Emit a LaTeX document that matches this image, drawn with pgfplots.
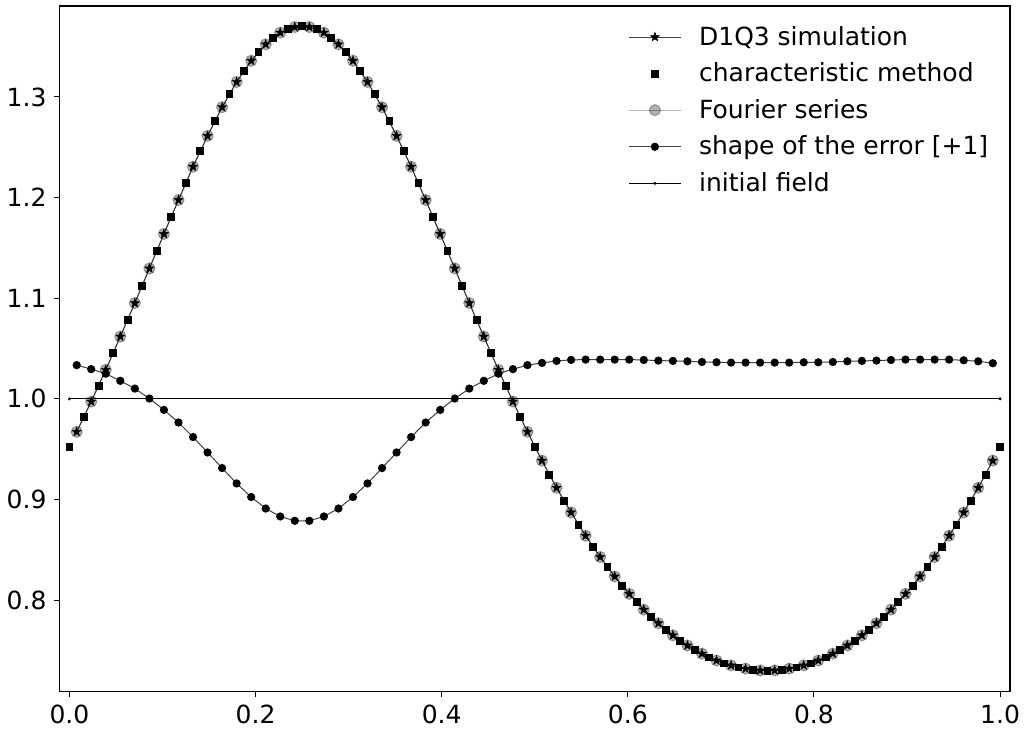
\documentclass[border=0pt]{standalone}
\usepackage{fontspec}
\setmainfont{DejaVu Sans}
\usepackage{pgfplots}
\usepackage{pgfplotstable}
\pgfplotsset{compat=1.18}

% filled five-pointed star, like matplotlib's '*'
\pgfdeclareplotmark{fstar}{%
  \pgfpathmoveto{\pgfpointpolar{90}{1.15*\pgfplotmarksize}}%
  \pgfpathlineto{\pgfpointpolar{126}{0.48*\pgfplotmarksize}}%
  \pgfpathlineto{\pgfpointpolar{162}{1.15*\pgfplotmarksize}}%
  \pgfpathlineto{\pgfpointpolar{198}{0.48*\pgfplotmarksize}}%
  \pgfpathlineto{\pgfpointpolar{234}{1.15*\pgfplotmarksize}}%
  \pgfpathlineto{\pgfpointpolar{270}{0.48*\pgfplotmarksize}}%
  \pgfpathlineto{\pgfpointpolar{306}{1.15*\pgfplotmarksize}}%
  \pgfpathlineto{\pgfpointpolar{342}{0.48*\pgfplotmarksize}}%
  \pgfpathlineto{\pgfpointpolar{18}{1.15*\pgfplotmarksize}}%
  \pgfpathlineto{\pgfpointpolar{54}{0.48*\pgfplotmarksize}}%
  \pgfpathclose\pgfusepathqfillstroke}

\pgfplotsset{
  longleg/.style={legend image code/.code={%
    \draw[mark repeat=2,mark phase=2,##1] plot coordinates {(0cm,0cm) (0.45cm,0cm) (0.9cm,0cm)};}},
}

% D1Q3 simulation and Fourier series, cell centres
\pgfplotstableread{
x y
0.0078125 0.9672
0.0234375 0.9973
0.0390625 1.0288
0.0546875 1.0619
0.0703125 1.0952
0.0859375 1.1296
0.1015625 1.1639
0.1171875 1.1976
0.1328125 1.2307
0.1484375 1.2613
0.1640625 1.2898
0.1796875 1.3149
0.1953125 1.3360
0.2109375 1.3523
0.2265625 1.3639
0.2421875 1.3695
0.2578125 1.3695
0.2734375 1.3639
0.2890625 1.3523
0.3046875 1.3360
0.3203125 1.3149
0.3359375 1.2898
0.3515625 1.2613
0.3671875 1.2307
0.3828125 1.1976
0.3984375 1.1639
0.4140625 1.1296
0.4296875 1.0952
0.4453125 1.0619
0.4609375 1.0288
0.4765625 0.9973
0.4921875 0.9672
0.5078125 0.9386
0.5234375 0.9116
0.5390625 0.8871
0.5546875 0.8640
0.5703125 0.8428
0.5859375 0.8235
0.6015625 0.8062
0.6171875 0.7905
0.6328125 0.7770
0.6484375 0.7650
0.6640625 0.7549
0.6796875 0.7468
0.6953125 0.7400
0.7109375 0.7351
0.7265625 0.7319
0.7421875 0.7301
0.7578125 0.7301
0.7734375 0.7319
0.7890625 0.7351
0.8046875 0.7400
0.8203125 0.7468
0.8359375 0.7549
0.8515625 0.7650
0.8671875 0.7770
0.8828125 0.7905
0.8984375 0.8062
0.9140625 0.8235
0.9296875 0.8428
0.9453125 0.8640
0.9609375 0.8871
0.9765625 0.9116
0.9921875 0.9386
}\simdata

% characteristic method, cell edges
\pgfplotstableread{
x y
0 0.9526
0.015625 0.9818
0.03125 1.0128
0.046875 1.0454
0.0625 1.0785
0.078125 1.1122
0.09375 1.1470
0.109375 1.1810
0.125 1.2142
0.140625 1.2460
0.15625 1.2762
0.171875 1.3027
0.1875 1.3261
0.203125 1.3450
0.21875 1.3589
0.234375 1.3675
0.25 1.3705
0.265625 1.3675
0.28125 1.3589
0.296875 1.3450
0.3125 1.3261
0.328125 1.3027
0.34375 1.2762
0.359375 1.2460
0.375 1.2142
0.390625 1.1810
0.40625 1.1470
0.421875 1.1122
0.4375 1.0785
0.453125 1.0454
0.46875 1.0128
0.484375 0.9818
0.5 0.9526
0.515625 0.9248
0.53125 0.8988
0.546875 0.8750
0.5625 0.8530
0.578125 0.8329
0.59375 0.8143
0.609375 0.7979
0.625 0.7833
0.640625 0.7706
0.65625 0.7598
0.671875 0.7505
0.6875 0.7431
0.703125 0.7371
0.71875 0.7331
0.734375 0.7307
0.75 0.7299
0.765625 0.7307
0.78125 0.7331
0.796875 0.7371
0.8125 0.7431
0.828125 0.7505
0.84375 0.7598
0.859375 0.7706
0.875 0.7833
0.890625 0.7979
0.90625 0.8143
0.921875 0.8329
0.9375 0.8530
0.953125 0.8750
0.96875 0.8988
0.984375 0.9248
1 0.9526
}\chardata

% shape of the error, shifted by +1
\pgfplotstableread{
x y
0.0078125 1.0335
0.0234375 1.0295
0.0390625 1.0250
0.0546875 1.0179
0.0703125 1.0102
0.0859375 1.0003
0.1015625 0.9890
0.1171875 0.9765
0.1328125 0.9620
0.1484375 0.9467
0.1640625 0.9312
0.1796875 0.9159
0.1953125 0.9024
0.2109375 0.8910
0.2265625 0.8831
0.2421875 0.8788
0.2578125 0.8788
0.2734375 0.8831
0.2890625 0.8910
0.3046875 0.9024
0.3203125 0.9159
0.3359375 0.9312
0.3515625 0.9467
0.3671875 0.9620
0.3828125 0.9765
0.3984375 0.9890
0.4140625 1.0003
0.4296875 1.0102
0.4453125 1.0179
0.4609375 1.0250
0.4765625 1.0295
0.4921875 1.0335
0.5078125 1.0357
0.5234375 1.0377
0.5390625 1.0387
0.5546875 1.0390
0.5703125 1.0390
0.5859375 1.0390
0.6015625 1.0390
0.6171875 1.0386
0.6328125 1.0380
0.6484375 1.0377
0.6640625 1.0373
0.6796875 1.0366
0.6953125 1.0363
0.7109375 1.0360
0.7265625 1.0360
0.7421875 1.0360
0.7578125 1.0360
0.7734375 1.0360
0.7890625 1.0363
0.8046875 1.0363
0.8203125 1.0366
0.8359375 1.0373
0.8515625 1.0377
0.8671875 1.0380
0.8828125 1.0386
0.8984375 1.0390
0.9140625 1.0390
0.9296875 1.0390
0.9453125 1.0390
0.9609375 1.0383
0.9765625 1.0373
0.9921875 1.0354
}\errdata

\begin{document}
\begin{tikzpicture}
\begin{axis}[
  scale only axis, width=475.5pt, height=343pt,
  xmin=-0.0107, xmax=1.0107, ymin=0.709, ymax=1.3904,
  xtick={0,0.2,0.4,0.6,0.8,1.0}, xticklabels={0.0,0.2,0.4,0.6,0.8,1.0},
  ytick={0.8,0.9,1.0,1.1,1.2,1.3}, yticklabels={0.8,0.9,1.0,1.1,1.2,1.3},
  tick pos=left, tick align=outside, major tick length=2.5pt,
  tick style={black, line width=0.5pt},
  axis line style={black, line width=0.6pt},
  tick label style={font=\fontsize{12.5}{14}\selectfont},
  xticklabel style={yshift=-0.5pt}, yticklabel style={xshift=-0.5pt},
  longleg,
  legend style={draw=none, fill=none, at={(0.988,0.983)}, anchor=north east,
    font=\fontsize{12.5}{14}\selectfont, row sep=3.3pt, legend cell align=left,
    /tikz/every odd column/.append style={column sep=7pt}},
]
\addplot[black!75, line width=0.5pt, mark=fstar, mark size=2.1pt,
  mark options={black, fill=black, line width=0.2pt}] table {\simdata};
\addlegendentry{D1Q3 simulation}
\addplot[black, only marks, mark=square*, mark size=1.7pt, longleg] table {\chardata};
\addlegendentry{characteristic method}
\addplot[black, opacity=0.3, line width=0.5pt, mark=*, mark size=2.8pt,
  mark options={draw=none}] table {\simdata};
\addlegendentry{Fourier series}
\addplot[black!75, line width=0.5pt, mark=*, mark size=1.8pt,
  mark options={black}] table {\errdata};
\addlegendentry{shape of the error [+1]}
\addplot[black, line width=0.6pt, mark=*, mark size=0.4pt] coordinates {(0,1) (1,1)};
\addlegendentry{initial field}
\end{axis}
\path (current axis.south west) ++(-29.5pt,-19.5pt) coordinate (bbsw);
\path (current axis.north east) ++(8.5pt,3pt) coordinate (bbne);
\path (bbsw) rectangle (bbne);
\end{tikzpicture}
\end{document}
